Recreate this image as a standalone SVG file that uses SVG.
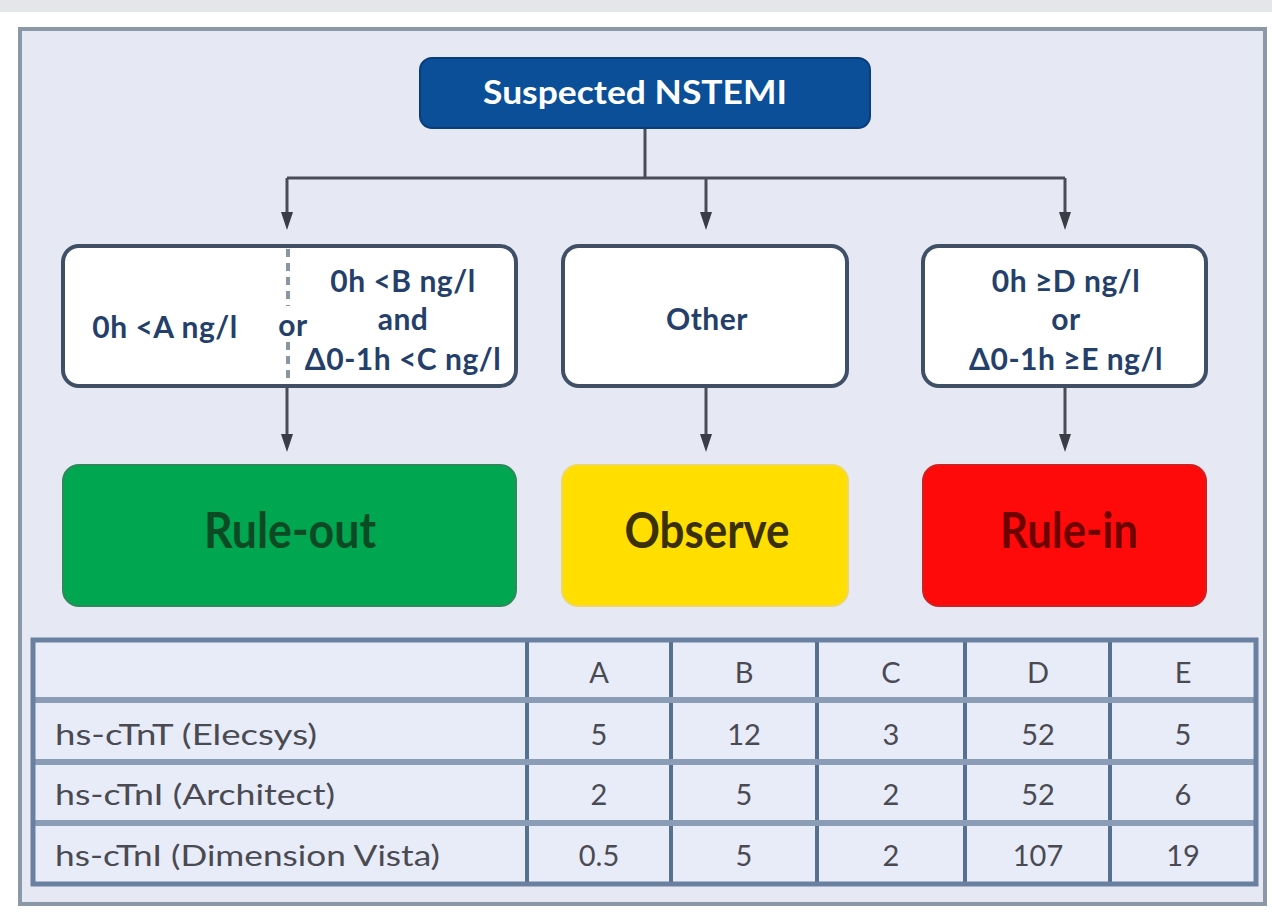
<svg xmlns="http://www.w3.org/2000/svg" width="1272" height="916" viewBox="0 0 1272 916">
<style>
.cond{fill:#ffffff;stroke:#3e4f66;stroke-width:4}
.ct{font-family:Lato,"Liberation Sans",sans-serif;font-weight:bold;font-size:30px;fill:#24406a;text-anchor:middle;letter-spacing:0.5px}
.res{font-family:Lato,"Liberation Sans",sans-serif;font-weight:bold;font-size:50px;text-anchor:middle}
.conn{stroke:#4a4c58;stroke-width:3;fill:none}
.tt{font-family:Lato,"Liberation Sans",sans-serif;font-size:29px;fill:#4a4a52}
.tc{text-anchor:middle}
.hl{stroke:#8a9cb6;stroke-width:6}
.vl{stroke:#56708f;stroke-width:4}
.ah{fill:#3a3c46}
</style>
<rect x="0" y="0" width="1272" height="916" fill="#ffffff"/>
<rect x="0" y="0" width="1272" height="12" fill="#e4e6ea"/>
<rect id="frame" x="20" y="29" width="1245" height="875" fill="#e6e8f4" stroke="#8a98a8" stroke-width="4"/>

<g id="connectors">
<line class="conn" x1="645" y1="128" x2="645" y2="178"/>
<line class="conn" x1="287" y1="178" x2="1065" y2="178"/>
<line class="conn" x1="287" y1="178" x2="287" y2="214"/>
<path class="ah" d="M281,212 L293,212 L287,230 Z"/>
<line class="conn" x1="706" y1="178" x2="706" y2="214"/>
<path class="ah" d="M700,212 L712,212 L706,230 Z"/>
<line class="conn" x1="1065" y1="178" x2="1065" y2="214"/>
<path class="ah" d="M1059,212 L1071,212 L1065,230 Z"/>
<line class="conn" x1="287" y1="388" x2="287" y2="436"/>
<path class="ah" d="M281,434 L293,434 L287,452 Z"/>
<line class="conn" x1="706" y1="388" x2="706" y2="436"/>
<path class="ah" d="M700,434 L712,434 L706,452 Z"/>
<line class="conn" x1="1065" y1="388" x2="1065" y2="436"/>
<path class="ah" d="M1059,434 L1071,434 L1065,452 Z"/>
</g>

<g id="start">
<rect x="420" y="58" width="450" height="70" rx="12" fill="#0a4f98" stroke="#0a3d7a" stroke-width="2"/>
<text x="635" y="104" font-family="Lato,'Liberation Sans',sans-serif" font-weight="bold" font-size="33" fill="#ffffff" text-anchor="middle" textLength="304" lengthAdjust="spacingAndGlyphs">Suspected NSTEMI</text>
</g>

<g id="cond-ruleout">
<rect class="cond" x="63" y="246" width="453" height="140" rx="16"/>
<line x1="288" y1="249" x2="288" y2="306" stroke="#8a96a4" stroke-width="4" stroke-dasharray="8,6"/>
<line x1="288" y1="342" x2="288" y2="384" stroke="#8a96a4" stroke-width="4" stroke-dasharray="8,6"/>
<text class="ct" x="165" y="338">0h &lt;A ng/l</text>
<text class="ct" x="293" y="336">or</text>
<text class="ct" x="403" y="292">0h &lt;B ng/l</text>
<text class="ct" x="403" y="330">and</text>
<text class="ct" x="403" y="370">Δ0-1h &lt;C ng/l</text>
</g>

<g id="cond-other">
<rect class="cond" x="563" y="246" width="284" height="140" rx="16"/>
<text class="ct" x="707" y="330" font-size="32">Other</text>
</g>

<g id="cond-rulein">
<rect class="cond" x="923" y="246" width="283" height="140" rx="16"/>
<text class="ct" x="1066" y="292">0h ≥D ng/l</text>
<text class="ct" x="1066" y="330">or</text>
<text class="ct" x="1066" y="370">Δ0-1h ≥E ng/l</text>
</g>

<g id="ruleout">
<rect x="63" y="465" width="453" height="141" rx="16" fill="#00a650" stroke="#2e8a5a" stroke-width="2"/>
<text class="res" x="290" y="548" fill="#0c4a24" textLength="172" lengthAdjust="spacingAndGlyphs">Rule-out</text>
</g>
<g id="observe">
<rect x="562" y="465" width="286" height="141" rx="16" fill="#ffde00" stroke="#f0d860" stroke-width="2"/>
<text class="res" x="707" y="548" fill="#3a3000" textLength="165" lengthAdjust="spacingAndGlyphs">Observe</text>
</g>
<g id="rulein">
<rect x="923" y="465" width="283" height="141" rx="16" fill="#ff0a0a" stroke="#d02020" stroke-width="2"/>
<text class="res" x="1069" y="548" fill="#6e0000" textLength="138" lengthAdjust="spacingAndGlyphs">Rule-in</text>
</g>

<g id="table">
<rect x="33" y="640" width="1223" height="244" fill="#e8ecf8"/>
<line class="vl" x1="527" y1="640" x2="527" y2="884"/>
<line class="vl" x1="671" y1="640" x2="671" y2="884"/>
<line class="vl" x1="817" y1="640" x2="817" y2="884"/>
<line class="vl" x1="965" y1="640" x2="965" y2="884"/>
<line class="vl" x1="1110" y1="640" x2="1110" y2="884"/>
<line class="hl" x1="33" y1="700" x2="1256" y2="700"/>
<line class="hl" x1="33" y1="762" x2="1256" y2="762"/>
<line class="hl" x1="33" y1="823" x2="1256" y2="823"/>
<rect x="33" y="640" width="1223" height="244" fill="none" stroke="#6a80a0" stroke-width="5"/>
<g class="tt tc">
<text x="599" y="683">A</text>
<text x="744" y="683">B</text>
<text x="891" y="683">C</text>
<text x="1038" y="683">D</text>
<text x="1183" y="683">E</text>
<text x="599" y="745">5</text>
<text x="744" y="745">12</text>
<text x="891" y="745">3</text>
<text x="1038" y="745">52</text>
<text x="1183" y="745">5</text>
<text x="599" y="805">2</text>
<text x="744" y="805">5</text>
<text x="891" y="805">2</text>
<text x="1038" y="805">52</text>
<text x="1183" y="805">6</text>
<text x="599" y="866">0.5</text>
<text x="744" y="866">5</text>
<text x="891" y="866">2</text>
<text x="1038" y="866">107</text>
<text x="1183" y="866">19</text>
</g>
<g class="tt">
<text x="55" y="745" textLength="262" lengthAdjust="spacingAndGlyphs">hs-cTnT (Elecsys)</text>
<text x="55" y="805" textLength="280" lengthAdjust="spacingAndGlyphs">hs-cTnI (Architect)</text>
<text x="55" y="866" textLength="385" lengthAdjust="spacingAndGlyphs">hs-cTnI (Dimension Vista)</text>
</g>
</g>
</svg>
